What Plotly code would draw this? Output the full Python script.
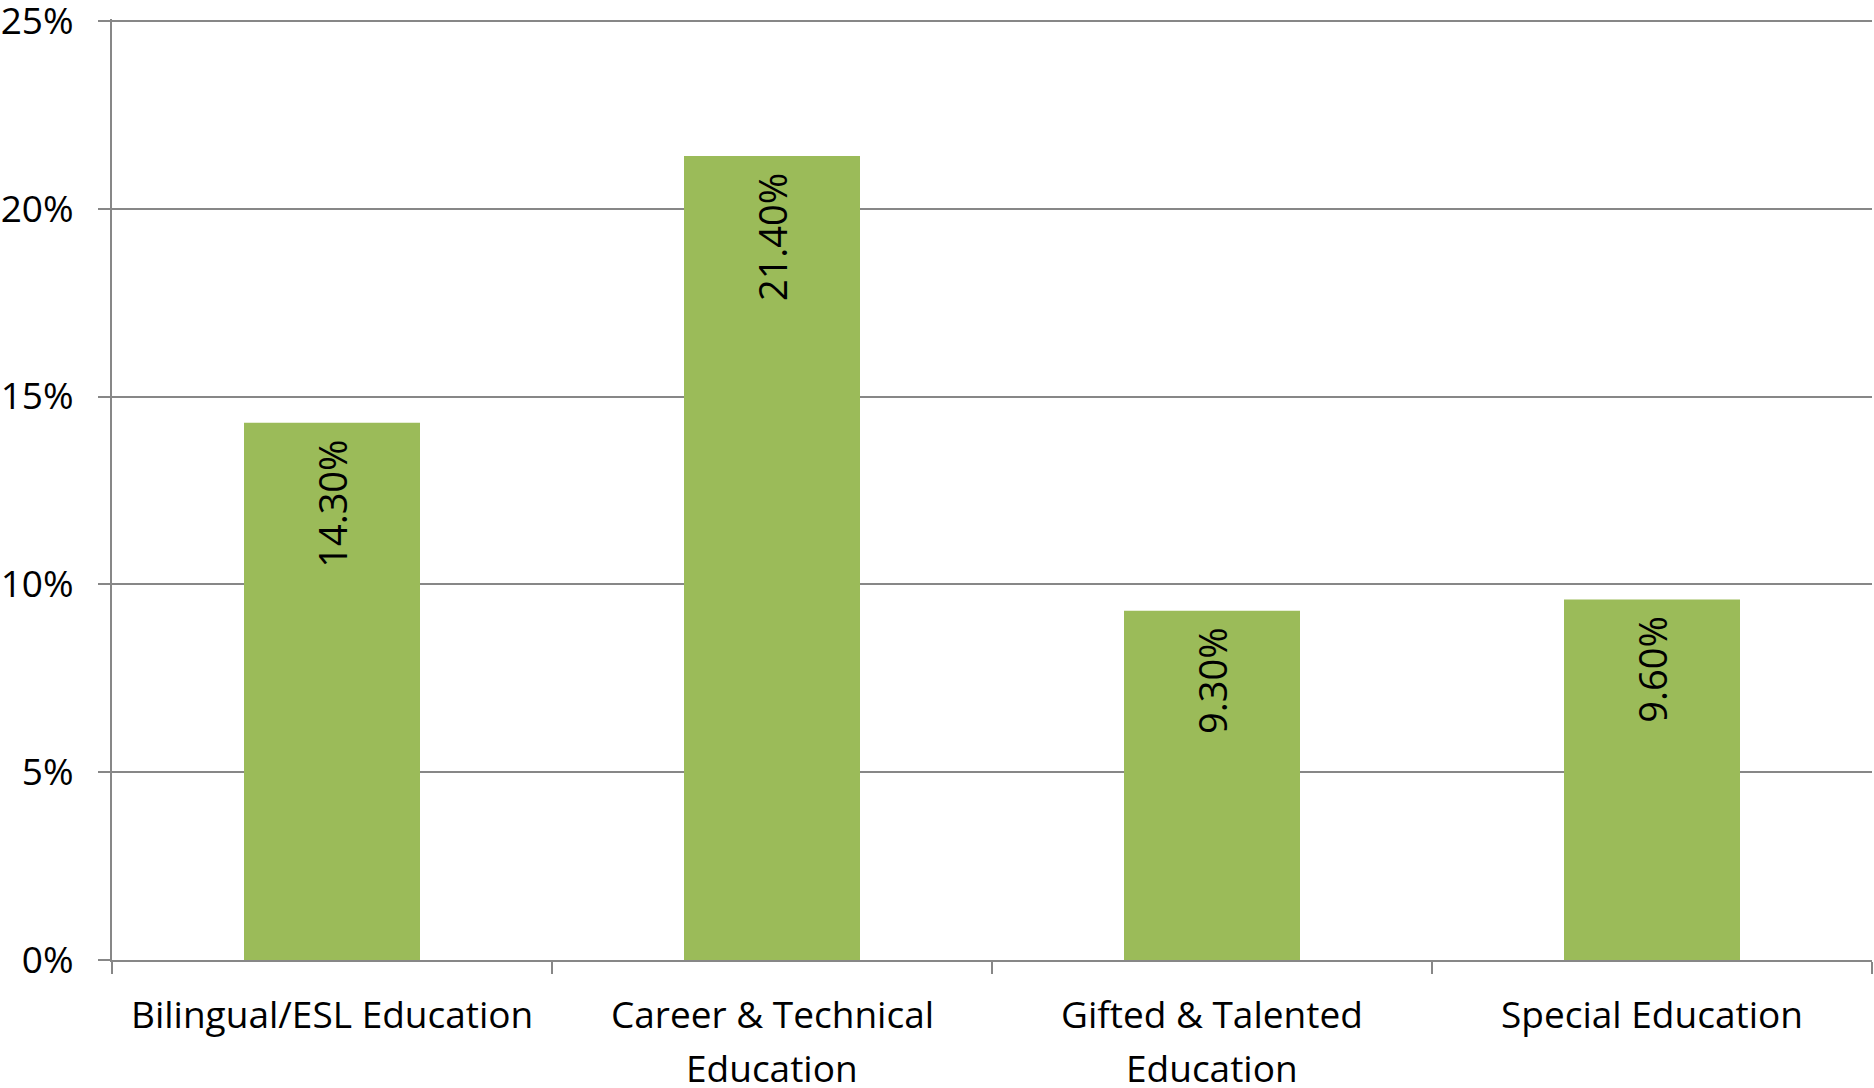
import plotly.graph_objects as go

categories = ["Bilingual/ESL Education", "Career & Technical Education",
              "Gifted & Talented Education", "Special Education"]
label_line1 = ["Bilingual/ESL Education", "Career & Technical",
               "Gifted & Talented", "Special Education"]
label_line2 = ["", "Education", "Education", ""]
values = [14.3, 21.4, 9.3, 9.6]
labels = ["14.30%", "21.40%", "9.30%", "9.60%"]

grey = "#878787"
font_name = "Open Sans"

fig = go.Figure()

fig.add_trace(go.Bar(
    x=categories,
    y=values,
    text=labels,
    texttemplate="%{text}\u00a0\u200a",
    textposition="inside",
    insidetextanchor="end",
    textangle=-90,
    textfont=dict(family=font_name, size=38, color="black"),
    marker=dict(color="#9BBB59", line=dict(width=0)),
    width=0.4,
))

# category labels drawn as two rows of text below the axis
for cat, l1, l2 in zip(categories, label_line1, label_line2):
    for txt, shift in ((l1, -53), (l2, -107)):
        if txt:
            fig.add_annotation(x=cat, y=0, xref="x", yref="paper",
                               text=txt, showarrow=False,
                               yanchor="middle", yshift=shift,
                               font=dict(family=font_name, size=37, color="black"))

fig.update_layout(
    width=1874,
    height=1088,
    margin=dict(l=112, r=2, t=19, b=128, autoexpand=False),
    paper_bgcolor="white",
    plot_bgcolor="white",
    showlegend=False,
    font=dict(family=font_name, size=37, color="black"),
    xaxis=dict(
        automargin=False,
        showgrid=False,
        showline=True,
        linecolor=grey,
        linewidth=2,
        ticks="outside",
        tickson="boundaries",
        ticklen=12,
        tickcolor=grey,
        tickwidth=2,
        showticklabels=False,
    ),
    yaxis=dict(
        automargin=False,
        range=[0, 25.05],
        tick0=0,
        dtick=5,
        ticksuffix="%",
        showgrid=True,
        gridcolor=grey,
        gridwidth=2,
        showline=True,
        linecolor=grey,
        linewidth=2,
        ticks="outside",
        ticklen=12,
        tickcolor=grey,
        tickwidth=2,
        ticklabelstandoff=17,
        ticklabeloverflow="allow",
        zeroline=False,
    ),
)

# page margin off so the figure sits at the window corner
fig.write_html("out.html", config={"displayModeBar": False},
               post_script="document.body.style.margin='0';")
